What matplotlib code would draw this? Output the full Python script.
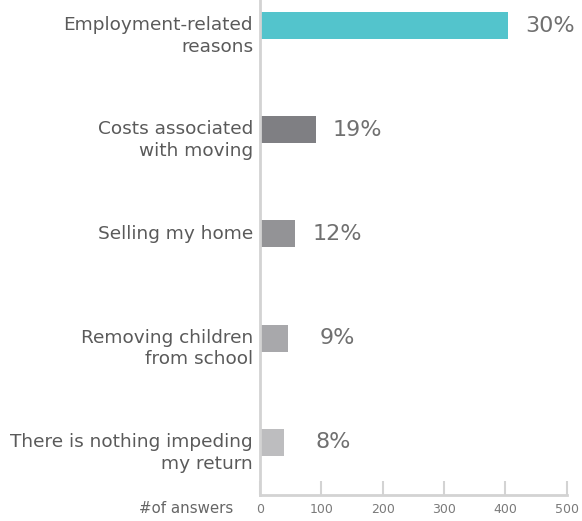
import matplotlib
matplotlib.use("Agg")
import matplotlib.pyplot as plt

# data
categories = ["Employment-related\nreasons", "Costs associated\nwith moving", "Selling my home",
              "Removing children\nfrom school", "There is nothing impeding\nmy return"]
answers = [404, 91, 57, 46, 39]
percent_labels = ["30%", "19%", "12%", "9%", "8%"]
bar_colors = ["#53c4cc", "#7f7f83", "#939396", "#a8a8ab", "#bdbdbf"]
xticks = [0, 100, 200, 300, 400, 500]

plt.rcParams["font.family"] = ["DejaVu Sans"]

fig = plt.figure(figsize=(5.82, 5.21), dpi=100)
ax = fig.add_axes([0.4467, 0.05, 0.5273, 0.95])

ypos = list(range(len(categories)))
ax.barh(ypos, answers, height=0.26, color=bar_colors)

# percent labels, right aligned a fixed distance past the bar end
for y, v, lab in zip(ypos, answers, percent_labels):
    ax.annotate(lab, xy=(v, y), xytext=(48, 0), textcoords="offset points",
                ha="right", va="center", fontsize=16, color="#707070")

# category labels: first line level with its bar
line_pitch = 15.1  # points between label lines
for y, cat in zip(ypos, categories):
    nlines = cat.count("\n") + 1
    ax.annotate(cat, xy=(0, y), xycoords=("axes fraction", "data"),
                xytext=(-5, -(nlines - 1) * line_pitch / 2),
                textcoords="offset points", ha="right", va="center",
                fontsize=13.3, color="#5a5a5a", linespacing=1.25, multialignment="right")

ax.set_ylim(4.505, -0.245)
ax.set_xlim(0, 500)
ax.set_yticks([])
ax.set_xticks(xticks)
ax.tick_params(axis="x", direction="in", length=10, width=1.5, color="#d3d3d3",
               labelsize=9, labelcolor="#7a7a7a", pad=6)

for s in ["top", "right"]:
    ax.spines[s].set_visible(False)
for s in ["left", "bottom"]:
    ax.spines[s].set_color("#d3d3d3")
    ax.spines[s].set_linewidth(2)

ax.annotate("#of answers", xy=(0, 0), xycoords="axes fraction", xytext=(-19, -10),
            textcoords="offset points", ha="right", va="center", fontsize=10.8, color="#666666")

fig.savefig("out.png", dpi=100)
